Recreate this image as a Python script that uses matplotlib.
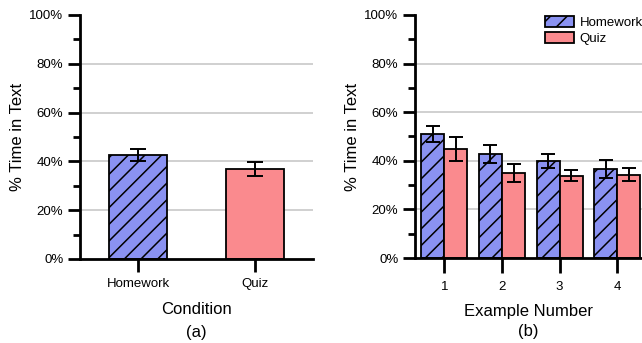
import matplotlib
matplotlib.use('Agg')
import matplotlib.pyplot as plt
from matplotlib.ticker import MultipleLocator, FuncFormatter

plt.rcParams['font.family'] = ['Liberation Sans', 'DejaVu Sans']
plt.rcParams['hatch.linewidth'] = 1.1

# data (percent)
conditions = ['Homework', 'Quiz']
cond_means = [42.6, 36.9]
cond_errs = [2.4, 2.7]

examples = [1, 2, 3, 4]
hw_means = [50.9, 42.9, 39.9, 36.8]
hw_errs = [3.3, 3.7, 2.8, 3.7]
quiz_means = [44.9, 34.9, 33.9, 34.3]
quiz_errs = [5.0, 3.7, 2.4, 2.7]

blue = '#8a92f2'
pink = '#fa8a8e'
grid_c = '#c8c8c8'

fig = plt.figure(figsize=(6.42, 3.43), dpi=100)
ax1 = fig.add_axes([0.1246, 0.2449, 0.3629, 0.7114])
ax2 = fig.add_axes([0.6464, 0.2478, 0.3536, 0.7085])


def style_axes(ax, xlen, xpad):
    ax.set_ylim(0, 100)
    ax.yaxis.set_major_locator(MultipleLocator(20))
    ax.yaxis.set_minor_locator(MultipleLocator(10))
    ax.yaxis.set_major_formatter(FuncFormatter(lambda v, p: f'{v:.0f}%'))
    for s in ['top', 'right']:
        ax.spines[s].set_visible(False)
    for s in ['left', 'bottom']:
        ax.spines[s].set_linewidth(2)
    ax.tick_params(axis='y', which='major', direction='out', length=9,
                   width=2, labelsize=9.5, pad=3)
    ax.tick_params(axis='y', which='minor', direction='out', length=5, width=2)
    ax.tick_params(axis='x', direction='out', length=xlen, width=2,
                   labelsize=9.5, pad=xpad)
    for v in [20, 40, 60, 80]:
        ax.axhline(v, color=grid_c, lw=1.2, zorder=0)
    ax.set_ylabel('% Time in Text', fontsize=12, labelpad=3)


# (a) by condition
xa = list(range(len(conditions)))
ax1.bar(xa[0], cond_means[0], width=0.5, color=blue, edgecolor='black',
        linewidth=1.3, hatch='//', zorder=2)
ax1.bar(xa[1], cond_means[1], width=0.5, color=pink, edgecolor='black',
        linewidth=1.3, zorder=2)
ax1.errorbar(xa, cond_means, yerr=cond_errs, fmt='none', ecolor='black',
             elinewidth=1.4, capsize=5.5, capthick=1.4, zorder=3)
ax1.set_xlim(-0.5, 1.5)
ax1.set_xticks(xa)
ax1.set_xticklabels(conditions)
style_axes(ax1, 9.5, 4)
ax1.set_xlabel('Condition', fontsize=12, labelpad=9)
ax1.text(0.5, -0.27, '(a)', transform=ax1.transAxes, ha='center',
         va='top', fontsize=12)

# (b) by example number
w = 0.4
xh = [e - w / 2 for e in examples]
xq = [e + w / 2 for e in examples]
ax2.bar(xh, hw_means, width=w, color=blue, edgecolor='black', linewidth=1.3,
        hatch='//', zorder=2, label='Homework')
ax2.bar(xq, quiz_means, width=w, color=pink, edgecolor='black', linewidth=1.3,
        zorder=2, label='Quiz')
ax2.errorbar(xh, hw_means, yerr=hw_errs, fmt='none', ecolor='black',
             elinewidth=1.4, capsize=5, capthick=1.4, zorder=3)
ax2.errorbar(xq, quiz_means, yerr=quiz_errs, fmt='none', ecolor='black',
             elinewidth=1.4, capsize=5, capthick=1.4, zorder=3)
ax2.set_xlim(0.49, 4.43)
ax2.set_xticks(examples)
style_axes(ax2, 10.5, 6)
ax2.set_xlabel('Example Number', fontsize=12, labelpad=8)
ax2.text(0.5, -0.27, '(b)', transform=ax2.transAxes, ha='center',
         va='top', fontsize=12)
ax2.legend(loc='upper left', bbox_to_anchor=(0.548, 1.018), frameon=False,
           fontsize=9.5, handlelength=2.2, handleheight=0.9,
           handletextpad=0.45, labelspacing=0.25, borderaxespad=0)

fig.savefig('out.png', dpi=100, facecolor='white')
